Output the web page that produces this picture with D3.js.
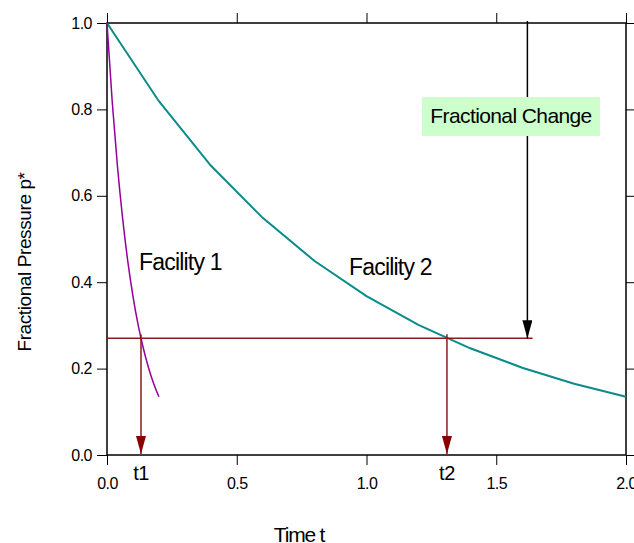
<!DOCTYPE html>
<html>
<head>
<meta charset="utf-8">
<script src="https://cdn.jsdelivr.net/npm/d3@7"></script>
<style>
  body { margin: 0; background: #fff; }
  text { font-family: "Liberation Sans", Arial, sans-serif; }
</style>
</head>
<body>
<svg width="634" height="543"></svg>
<script>
// facility 2 (slow decay), sampled every 0.2
var timeSlow = [0, 0.2, 0.4, 0.6, 0.8, 1.0, 1.2, 1.4, 1.6, 1.8, 2.0];
var pressureSlow = [1.0, 0.819, 0.670, 0.549, 0.449, 0.368, 0.301, 0.247, 0.202, 0.165, 0.135];
// facility 1 (fast decay), sampled every 0.02
var timeFast = [0, 0.02, 0.04, 0.06, 0.08, 0.10, 0.12, 0.14, 0.16, 0.18, 0.20];
var pressureFast = [1.0, 0.819, 0.670, 0.549, 0.449, 0.368, 0.301, 0.247, 0.202, 0.165, 0.135];

var xTicks = [0, 0.5, 1.0, 1.5, 2.0];
var yTicks = [0, 0.2, 0.4, 0.6, 0.8, 1.0];

var targetP = 0.27, t1 = 0.131, t2 = 1.31, tChange = 1.62, lineEnd = 1.64;

var svg = d3.select("svg"),
    margin = {top: 23, right: 8, bottom: 88, left: 107},
    width = +svg.attr("width") - margin.left - margin.right,
    height = +svg.attr("height") - margin.top - margin.bottom;

var x = d3.scaleLinear().domain([0, 2]).range([0, width]),
    y = d3.scaleLinear().domain([0, 1]).range([height, 0]);

var g = svg.append("g")
    .attr("transform", "translate(" + margin.left + "," + margin.top + ")");

var defs = svg.append("defs");
function marker(id, color) {
  defs.append("marker")
      .attr("id", id)
      .attr("viewBox", "0 0 18 10")
      .attr("refX", 18).attr("refY", 5)
      .attr("markerWidth", 18).attr("markerHeight", 10)
      .attr("markerUnits", "userSpaceOnUse")
      .attr("orient", "auto")
    .append("path")
      .attr("d", "M0,0L18,5L0,10Z")
      .attr("fill", color);
}
marker("redArrow", "#8b0000");
marker("blackArrow", "#000");

// axes
function styleAxis(sel) {
  sel.attr("font-size", 16).attr("font-family", null);
  sel.select(".domain").remove();
  sel.selectAll(".tick line").attr("stroke", "#000");
  sel.selectAll(".tick text").style("font-size", "16px").attr("fill", "#000")
      .attr("letter-spacing", -0.5);
}

g.append("g")
    .attr("transform", "translate(0," + height + ")")
    .call(d3.axisBottom(x).tickValues(xTicks).tickSize(10).tickPadding(13).tickFormat(d3.format(".1f")))
    .call(styleAxis);

g.append("g")
    .call(d3.axisTop(x).tickValues(xTicks).tickSize(10).tickFormat(""))
    .call(styleAxis);

g.append("g")
    .call(d3.axisLeft(y).tickValues(yTicks).tickSize(10).tickPadding(5).tickFormat(d3.format(".1f")))
    .call(styleAxis);

g.append("g")
    .attr("transform", "translate(" + width + ",0)")
    .call(d3.axisRight(y).tickValues(yTicks).tickSize(8).tickFormat(""))
    .call(styleAxis);

g.append("rect")
    .attr("width", width).attr("height", height)
    .attr("fill", "none").attr("stroke", "#000").attr("stroke-width", 1.5);

// curves
var line = d3.line()
    .x(function(d) { return x(d[0]); })
    .y(function(d) { return y(d[1]); });

g.append("path")
    .datum(d3.zip(timeSlow, pressureSlow))
    .attr("fill", "none")
    .attr("stroke", "#0a8b8b")
    .attr("stroke-width", 2)
    .attr("d", line);

g.append("path")
    .datum(d3.zip(timeFast, pressureFast))
    .attr("fill", "none")
    .attr("stroke", "#93009b")
    .attr("stroke-width", 1.5)
    .attr("d", line.curve(d3.curveMonotoneX));

// reference line and arrows
g.append("line")
    .attr("x1", x(0)).attr("x2", x(lineEnd))
    .attr("y1", y(targetP)).attr("y2", y(targetP))
    .attr("stroke", "#8b1a1a").attr("stroke-width", 1.5);

[t1, t2].forEach(function(t) {
  g.append("line")
      .attr("x1", x(t)).attr("x2", x(t))
      .attr("y1", y(targetP) - 4).attr("y2", y(0) - 1)
      .attr("stroke", "#8b1a1a").attr("stroke-width", 1.5)
      .attr("marker-end", "url(#redArrow)");
});

g.append("line")
    .attr("x1", x(tChange)).attr("x2", x(tChange))
    .attr("y1", y(1) - 2).attr("y2", y(targetP))
    .attr("stroke", "#000").attr("stroke-width", 1.5)
    .attr("marker-end", "url(#blackArrow)");

// labels
g.append("text").attr("x", x(t1)).attr("y", height + 25)
    .attr("text-anchor", "middle").attr("font-size", 20).attr("letter-spacing", -0.5).text("t1");
g.append("text").attr("x", x(t2)).attr("y", height + 25)
    .attr("text-anchor", "middle").attr("font-size", 20).attr("letter-spacing", -0.5).text("t2");

g.append("text").attr("x", 32).attr("y", 247)
    .attr("font-size", 23).attr("letter-spacing", -0.8).text("Facility 1");
g.append("text").attr("x", 242).attr("y", 252)
    .attr("font-size", 23).attr("letter-spacing", -0.8).text("Facility 2");

g.append("rect")
    .attr("x", 315).attr("y", 74)
    .attr("width", 178).attr("height", 39)
    .attr("fill", "#ccffcc");
g.append("text").attr("x", 404).attr("y", 100)
    .attr("text-anchor", "middle").attr("font-size", 21).attr("letter-spacing", -0.6)
    .text("Fractional Change");

svg.append("text")
    .attr("transform", "translate(31,262) rotate(-90)")
    .attr("text-anchor", "middle").attr("font-size", 19).attr("letter-spacing", -0.4)
    .text("Fractional Pressure p*");

svg.append("text")
    .attr("x", 299).attr("y", 542)
    .attr("text-anchor", "middle").attr("font-size", 21).attr("letter-spacing", -1.2)
    .text("Time t");
</script>
</body>
</html>
